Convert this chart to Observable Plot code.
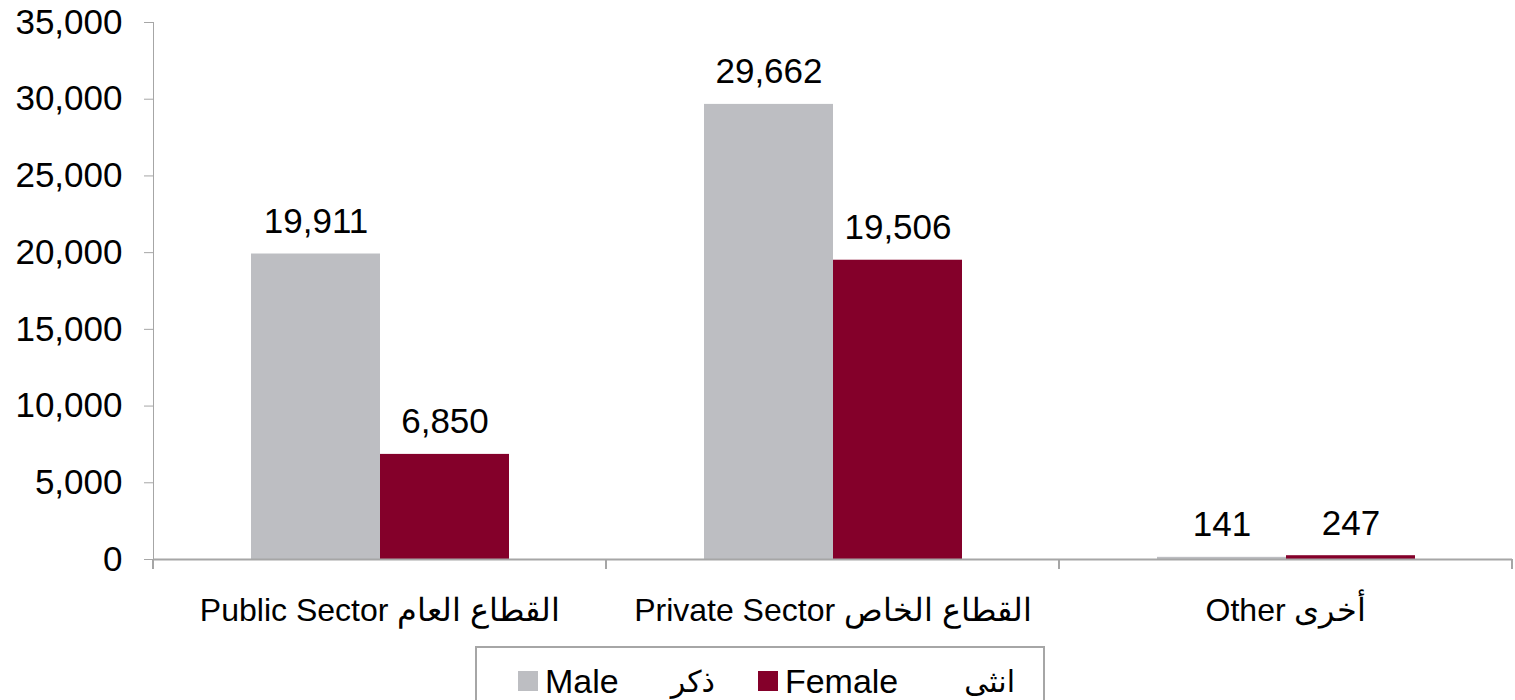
<!DOCTYPE html>
<html>
<head>
<meta charset="utf-8">
<script src="https://cdn.jsdelivr.net/npm/d3@7"></script>
<script src="https://cdn.jsdelivr.net/npm/@observablehq/plot@0.6"></script>
<style>
  html, body { margin: 0; padding: 0; background: #fff; }
  body { font-family: "Liberation Sans", Arial, sans-serif; width: 1515px; height: 700px; overflow: hidden; }
  #chart svg text { fill: #000; }
  #legend {
    margin-left: 475px; width: 570px; height: 70px; margin-top: 6px;
    border: 2px solid #a6a6a6; box-sizing: border-box;
    display: flex; align-items: center; font-size: 34px; color: #000;
  }
  #legend .sw { width: 20px; height: 20px; display: inline-block; margin-right: 7px; }
  #legend .en { display: inline-block; }
  #legend .ar { display: inline-block; font-family: "DejaVu Sans", sans-serif; font-size: 30px; }
</style>
</head>
<body>
<div id="chart"></div>
<div id="legend"></div>
<script>
const categories = ["Public Sector القطاع العام", "Private Sector القطاع الخاص", "Other أخرى"];
const genders = ["Male", "Female"];
const gendersAr = ["ذكر", "انثى"];
const maleValues = [19911, 29662, 141];
const femaleValues = [6850, 19506, 247];
const colors = ["#bdbec2", "#84002a"];
const yTicks = [0, 5000, 10000, 15000, 20000, 25000, 30000, 35000];

const data = [];
categories.forEach((c, i) => {
  data.push({category: c, gender: genders[0], value: maleValues[i]});
  data.push({category: c, gender: genders[1], value: femaleValues[i]});
});

const axisGray = "#a6a6a6";
const fmt = d3.format(",");

// boundary tick marks under the x axis, at the edges of each category band
const boundaryTicks = (index, scales, values, dimensions) => {
  const g = d3.create("svg:g");
  const y0 = scales.y(0);
  const left = dimensions.marginLeft;
  const right = dimensions.width - dimensions.marginRight;
  for (const x of [left, right]) {
    g.append("line")
      .attr("x1", x).attr("x2", x)
      .attr("y1", y0).attr("y2", y0 + 10)
      .attr("stroke", axisGray).attr("stroke-width", 2);
  }
  return g.node();
};

const chart = Plot.plot({
  width: 1515,
  height: 640,
  marginTop: 22,
  marginBottom: 81,
  marginLeft: 153,
  marginRight: 3,
  style: {fontFamily: "'Liberation Sans', Arial, sans-serif", fontSize: "35px", color: axisGray, background: "#fff"},
  facet: {data, x: "category"},
  fx: {domain: categories, padding: 0, axis: "bottom", tickSize: 0, tickPadding: 39, label: null},
  x: {domain: genders, paddingInner: 0, paddingOuter: 0.746, axis: null},
  y: {domain: [0, 35000], ticks: yTicks, tickFormat: fmt, tickSize: 9, tickPadding: 22, line: true, label: null},
  color: {domain: genders, range: colors},
  marks: [
    Plot.barY(data, {x: "gender", y: "value", fill: "gender"}),
    Plot.ruleY([0], {stroke: axisGray, strokeWidth: 2}),
    boundaryTicks,
    Plot.text(data, {x: "gender", y: "value", text: d => fmt(d.value), lineAnchor: "bottom", dy: -21, fill: "#000", fontSize: 35})
  ]
});
document.getElementById("chart").appendChild(chart);
// slightly smaller category labels
d3.select(chart).selectAll('g[aria-label^="fx-axis"] text').style("font-size", "32px");

// legend
const legend = d3.select("#legend");
const gapsBefore = [41, 43];
const arGap = [52, 66];
genders.forEach((g, i) => {
  legend.append("span").attr("class", "sw").style("background", colors[i]).style("margin-left", gapsBefore[i] + "px");
  legend.append("span").attr("class", "en").text(g);
  legend.append("span").attr("class", "ar").attr("dir", "rtl").style("margin-left", arGap[i] + "px").text(gendersAr[i]);
});
</script>
</body>
</html>
